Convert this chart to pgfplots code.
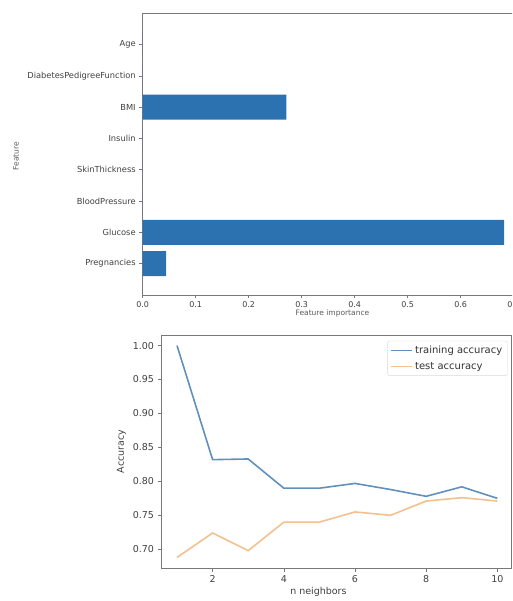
\documentclass[border=0pt]{standalone}
\usepackage{pgfplots}
\pgfplotsset{compat=1.18}
\usepackage{fontspec}
\setmainfont{DejaVu Sans}
\definecolor{mplblue}{RGB}{44,113,176}
\definecolor{trainc}{RGB}{96,144,188}
\definecolor{testc}{RGB}{243,192,142}
\definecolor{framec}{RGB}{120,120,120}
\begin{document}
\begin{tikzpicture}
\useasboundingbox (0pt,0pt) rectangle (512pt,601pt);
\clip (0pt,0pt) rectangle (512pt,601pt);
% ---------- top chart ----------
\begin{scope}
\clip (0pt,284pt) rectangle (512pt,601pt);
\begin{axis}[
  at={(142.7pt,306pt)}, anchor=south west,
  scale only axis, width=379.5pt, height=281.7pt,
  xmin=0, xmax=0.716, ymin=-1, ymax=8,
  xbar, bar width=0.8, bar shift=0pt,
  ytick={0,1,2,3,4,5,6,7},
  yticklabels={Pregnancies,Glucose,BloodPressure,SkinThickness,Insulin,BMI,DiabetesPedigreeFunction,Age},
  xtick={0,0.1,0.2,0.3,0.4,0.5,0.6,0.7},
  /pgf/number format/assume math mode=true,
  tick label style={text=black!75},
  yticklabel style={font=\fontsize{8.3}{10}\selectfont},
  xticklabel style={font=\fontsize{8}{10}\selectfont, /pgf/number format/.cd,fixed,fixed zerofill,precision=1},
  tick align=outside, major tick length=3.5pt,
  tick style={framec, line width=0.6pt},
  xtick pos=bottom, ytick pos=left,
  axis line style={framec, line width=0.8pt},
  xlabel={Feature importance},
  label style={font=\fontsize{7.5}{9}\selectfont, text=black!65},
  xlabel style={at={(axis description cs:0.5,0)}, anchor=north, yshift=-11pt},
]
\addplot[fill=mplblue, draw=none] coordinates {
 (0.044,0) (0.682,1) (0,2) (0,3) (0,4) (0.271,5) (0,6) (0,7)};
\end{axis}
\end{scope}
\node[rotate=90, font=\fontsize{7.5}{9}\selectfont, text=black!65] at (16pt,445pt) {Feature};
% ---------- bottom chart ----------
\begin{axis}[
  at={(161pt,32.7pt)}, anchor=south west,
  scale only axis, width=350.6pt, height=233.3pt,
  xmin=0.55, xmax=10.4, ymin=0.672, ymax=1.0156,
  xtick={2,4,6,8,10},
  ytick={0.70,0.75,0.80,0.85,0.90,0.95,1.00},
  /pgf/number format/assume math mode=true,
  tick label style={font=\fontsize{9.5}{11}\selectfont, text=black!75},
  yticklabel style={/pgf/number format/.cd,fixed,fixed zerofill,precision=2},
  tick align=outside, major tick length=3.5pt,
  tick style={framec, line width=0.6pt},
  xtick pos=bottom, ytick pos=left,
  axis line style={framec, line width=0.8pt},
  xlabel={n neighbors}, ylabel={Accuracy},
  label style={font=\fontsize{9.5}{11}\selectfont, text=black!75},
  xlabel style={at={(axis description cs:0.449,0)}, anchor=north, yshift=-15pt},
  legend style={at={(0.988,0.975)}, anchor=north east, draw=black!15, rounded corners=2pt,
    font=\fontsize{10}{12}\selectfont, text=black!80, inner xsep=3pt, inner ysep=3pt,
    row sep=3pt},
  legend cell align=left,
  legend image code/.code={\draw[#1, line width=1.6pt] (0pt,0pt) -- (21pt,0pt);},
]
\addplot[trainc, line width=1.6pt] coordinates {
 (1,1.000) (2,0.832) (3,0.833) (4,0.790) (5,0.790) (6,0.797) (7,0.788) (8,0.778) (9,0.792) (10,0.775)};
\addlegendentry{training accuracy}
\addplot[testc, line width=1.6pt] coordinates {
 (1,0.688) (2,0.724) (3,0.698) (4,0.740) (5,0.740) (6,0.755) (7,0.750) (8,0.771) (9,0.776) (10,0.771)};
\addlegendentry{test accuracy}
\end{axis}
\end{tikzpicture}
\end{document}
